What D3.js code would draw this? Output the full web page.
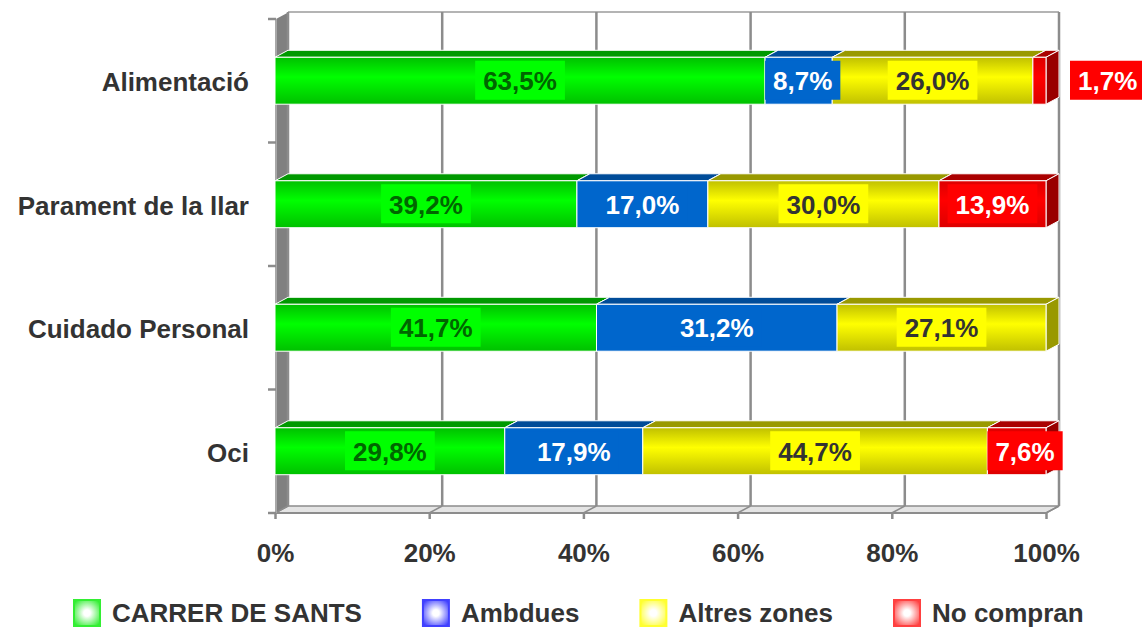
<!DOCTYPE html>
<html>
<head>
<meta charset="utf-8">
<script src="https://cdnjs.cloudflare.com/ajax/libs/d3/7.8.5/d3.min.js"></script>
<style>
	body { margin: 0; background: #fff; }
	svg { display: block; font-family: Arial, "Liberation Sans", sans-serif; font-weight: bold; }
</style>
</head>
<body>
<svg id="chart" width="1142" height="628"></svg>
<script>
// dades
var categories = ["Alimentació", "Parament de la llar", "Cuidado Personal", "Oci"];
var seriesNames = ["CARRER DE SANTS", "Ambdues", "Altres zones", "No compran"];
var carrerSants = [63.5, 39.2, 41.7, 29.8];
var ambdues = [8.7, 17.0, 31.2, 17.9];
var altresZones = [26.0, 30.0, 27.1, 44.7];
var noCompran = [1.7, 13.9, 0, 7.6];
var tickValues = [0, 20, 40, 60, 80, 100];

// colors per serie
var styles = [
	{ edge: "#00c000", mid: "#00ff00", top: "#009900", side: "#008800", box: "#00ff00", text: "#006600", legend: "#33ee33" },
	{ edge: "#0066cc", mid: "#0066cc", top: "#004c99", side: "#004080", box: "#0066cc", text: "#ffffff", legend: "#4040ff" },
	{ edge: "#c0c000", mid: "#ffff00", top: "#999900", side: "#999900", box: "#ffff00", text: "#333333", legend: "#ffff30" },
	{ edge: "#dd0000", mid: "#ff0000", top: "#aa0000", side: "#990000", box: "#ff0000", text: "#ffffff", legend: "#ff4040" }
];

var svg = d3.select("#chart");
var dx = 13, dy = 7;
var grey = "#8c8c8c";

var x = d3.scaleLinear().domain([0, 100]).range([275, 1046]);
var y = d3.scaleBand().domain(categories).range([19, 513])
	.paddingInner(0.62).paddingOuter(0.31);
var top0 = y.range()[0], bot0 = y.range()[1];

var defs = svg.append("defs");
styles.forEach(function(s, i) {
	var g = defs.append("linearGradient").attr("id", "front" + i)
		.attr("x1", 0).attr("y1", 0).attr("x2", 0).attr("y2", 1);
	g.append("stop").attr("offset", "0").attr("stop-color", s.edge);
	g.append("stop").attr("offset", "0.42").attr("stop-color", s.mid);
	g.append("stop").attr("offset", "1").attr("stop-color", s.edge);
	var r = defs.append("radialGradient").attr("id", "leg" + i).attr("r", 0.62);
	r.append("stop").attr("offset", "0").attr("stop-color", "#fff");
	r.append("stop").attr("offset", "0.2").attr("stop-color", "#fff");
	r.append("stop").attr("offset", "1").attr("stop-color", s.legend);
});

// parets
svg.append("polygon")
	.attr("points", [[x(0), bot0], [x(100), bot0], [x(100) + dx, bot0 - dy], [x(0) + dx, bot0 - dy]].join(" "))
	.attr("fill", "#e4e4e4").attr("stroke", grey).attr("stroke-width", 1.5);
svg.append("polygon")
	.attr("points", [[x(0) + 1, top0], [x(0) + dx + 1, top0 - dy], [x(0) + dx + 1, bot0 - dy], [x(0) + 1, bot0]].join(" "))
	.attr("fill", "#808080");
svg.append("line")
	.attr("x1", x(0) + dx).attr("x2", x(100) + dx)
	.attr("y1", top0 - dy).attr("y2", top0 - dy)
	.attr("stroke", "#b4b4b4").attr("stroke-width", 2);

// graella
var grid = svg.append("g");
tickValues.forEach(function(t) {
	grid.append("line")
		.attr("x1", x(t) + dx).attr("x2", x(t) + dx)
		.attr("y1", top0 - dy).attr("y2", bot0 - dy)
		.attr("stroke", grey).attr("stroke-width", 2.5);
	grid.append("line")
		.attr("x1", x(t)).attr("x2", x(t) + dx)
		.attr("y1", bot0).attr("y2", bot0 - dy)
		.attr("stroke", grey).attr("stroke-width", 1.5);
});

// eixos
var xAxis = svg.append("g")
	.attr("transform", "translate(0," + bot0 + ")")
	.call(d3.axisBottom(x).tickValues(tickValues).tickFormat(function(d) { return d + "%"; })
		.tickSize(6).tickPadding(25));
xAxis.select(".domain").attr("stroke", grey).attr("stroke-width", 2).attr("d", "M" + x(0) + ",0H" + x(100));
xAxis.selectAll(".tick line").attr("stroke", grey).attr("stroke-width", 2.5);
xAxis.selectAll("text").attr("font-size", 26).attr("font-family", null).attr("fill", "#333");

var yAxis = svg.append("g")
	.attr("transform", "translate(" + (x(0) + 1) + ",0)")
	.call(d3.axisLeft(y).tickSize(0).tickPadding(27));
yAxis.select(".domain").attr("stroke", "#a8a8a8").attr("stroke-width", 2)
	.attr("d", "M0," + top0 + "V" + bot0);
yAxis.selectAll("text").attr("font-size", 26).attr("font-family", null).attr("fill", "#333")
	.attr("dy", "0.4em");
var bounds = [top0].concat(categories.map(function(c) { return y(c) - y.step() * y.paddingInner() / 2 + y.step(); }));
bounds.forEach(function(b) {
	yAxis.append("line").attr("x1", -8).attr("x2", 0).attr("y1", b).attr("y2", b)
		.attr("stroke", grey).attr("stroke-width", 2.5);
});

// barres 3D apilades
var rows = categories.map(function(c, i) {
	return { cat: c, s0: carrerSants[i], s1: ambdues[i], s2: altresZones[i], s3: noCompran[i] };
});
var stack = d3.stack().keys(["s0", "s1", "s2", "s3"]).offset(d3.stackOffsetExpand)(rows);

var fmt = d3.format(".1f");
var labels = [];
var bars = svg.append("g");
stack.forEach(function(layer, si) {
	var st = styles[si];
	layer.forEach(function(d) {
		var v = d.data[layer.key];
		if (!v) return;
		var x0 = x(d[0] * 100), x1 = x(d[1] * 100);
		var yt = y(d.data.cat), yb = yt + y.bandwidth();
		var g = bars.append("g").attr("stroke", "#fff").attr("stroke-width", 1).attr("stroke-linejoin", "round");
		g.append("polygon")
			.attr("points", [[x0, yt], [x1, yt], [x1 + dx, yt - dy], [x0 + dx, yt - dy]].join(" "))
			.attr("fill", st.top);
		g.append("polygon")
			.attr("points", [[x1, yt], [x1 + dx, yt - dy], [x1 + dx, yb - dy], [x1, yb]].join(" "))
			.attr("fill", st.side);
		g.append("rect")
			.attr("x", x0).attr("y", yt).attr("width", x1 - x0).attr("height", yb - yt)
			.attr("fill", "url(#front" + si + ")");
		labels.push({ x0: x0, x1: x1, yc: (yt + yb) / 2, text: fmt(v).replace(".", ",") + "%", st: st });
	});
});

// etiquetes
var lab = svg.append("g");
labels.forEach(function(l) {
	var g = lab.append("g");
	var rect = g.append("rect").attr("fill", l.st.box);
	var t = g.append("text")
		.attr("font-size", 26).attr("fill", l.st.text)
		.attr("text-anchor", "middle").attr("dy", "0.36em")
		.text(l.text);
	var w = t.node().getComputedTextLength() + 16;
	var segW = l.x1 - l.x0;
	var bx = (l.x0 + l.x1) / 2 - w / 2;
	if (segW < 30) bx = l.x1 + dx + 11;
	else if (w > segW) bx = l.x0;
	rect.attr("x", bx).attr("y", l.yc - 20).attr("width", w).attr("height", 39);
	t.attr("x", bx + w / 2).attr("y", l.yc);
});

// llegenda
var legend = svg.append("g").attr("transform", "translate(73,599)");
var lx = 0;
seriesNames.forEach(function(n, i) {
	var g = legend.append("g").attr("transform", "translate(" + lx + ",0)");
	g.append("rect").attr("x", 1).attr("y", 1).attr("width", 26).attr("height", 26)
		.attr("fill", "url(#leg" + i + ")").attr("stroke", styles[i].legend).attr("stroke-width", 2);
	var t = g.append("text").attr("x", 39).attr("y", 23)
		.attr("font-size", 26).attr("fill", "#333").text(n);
	lx += 39 + t.node().getComputedTextLength() + 60;
});
</script>
</body>
</html>
